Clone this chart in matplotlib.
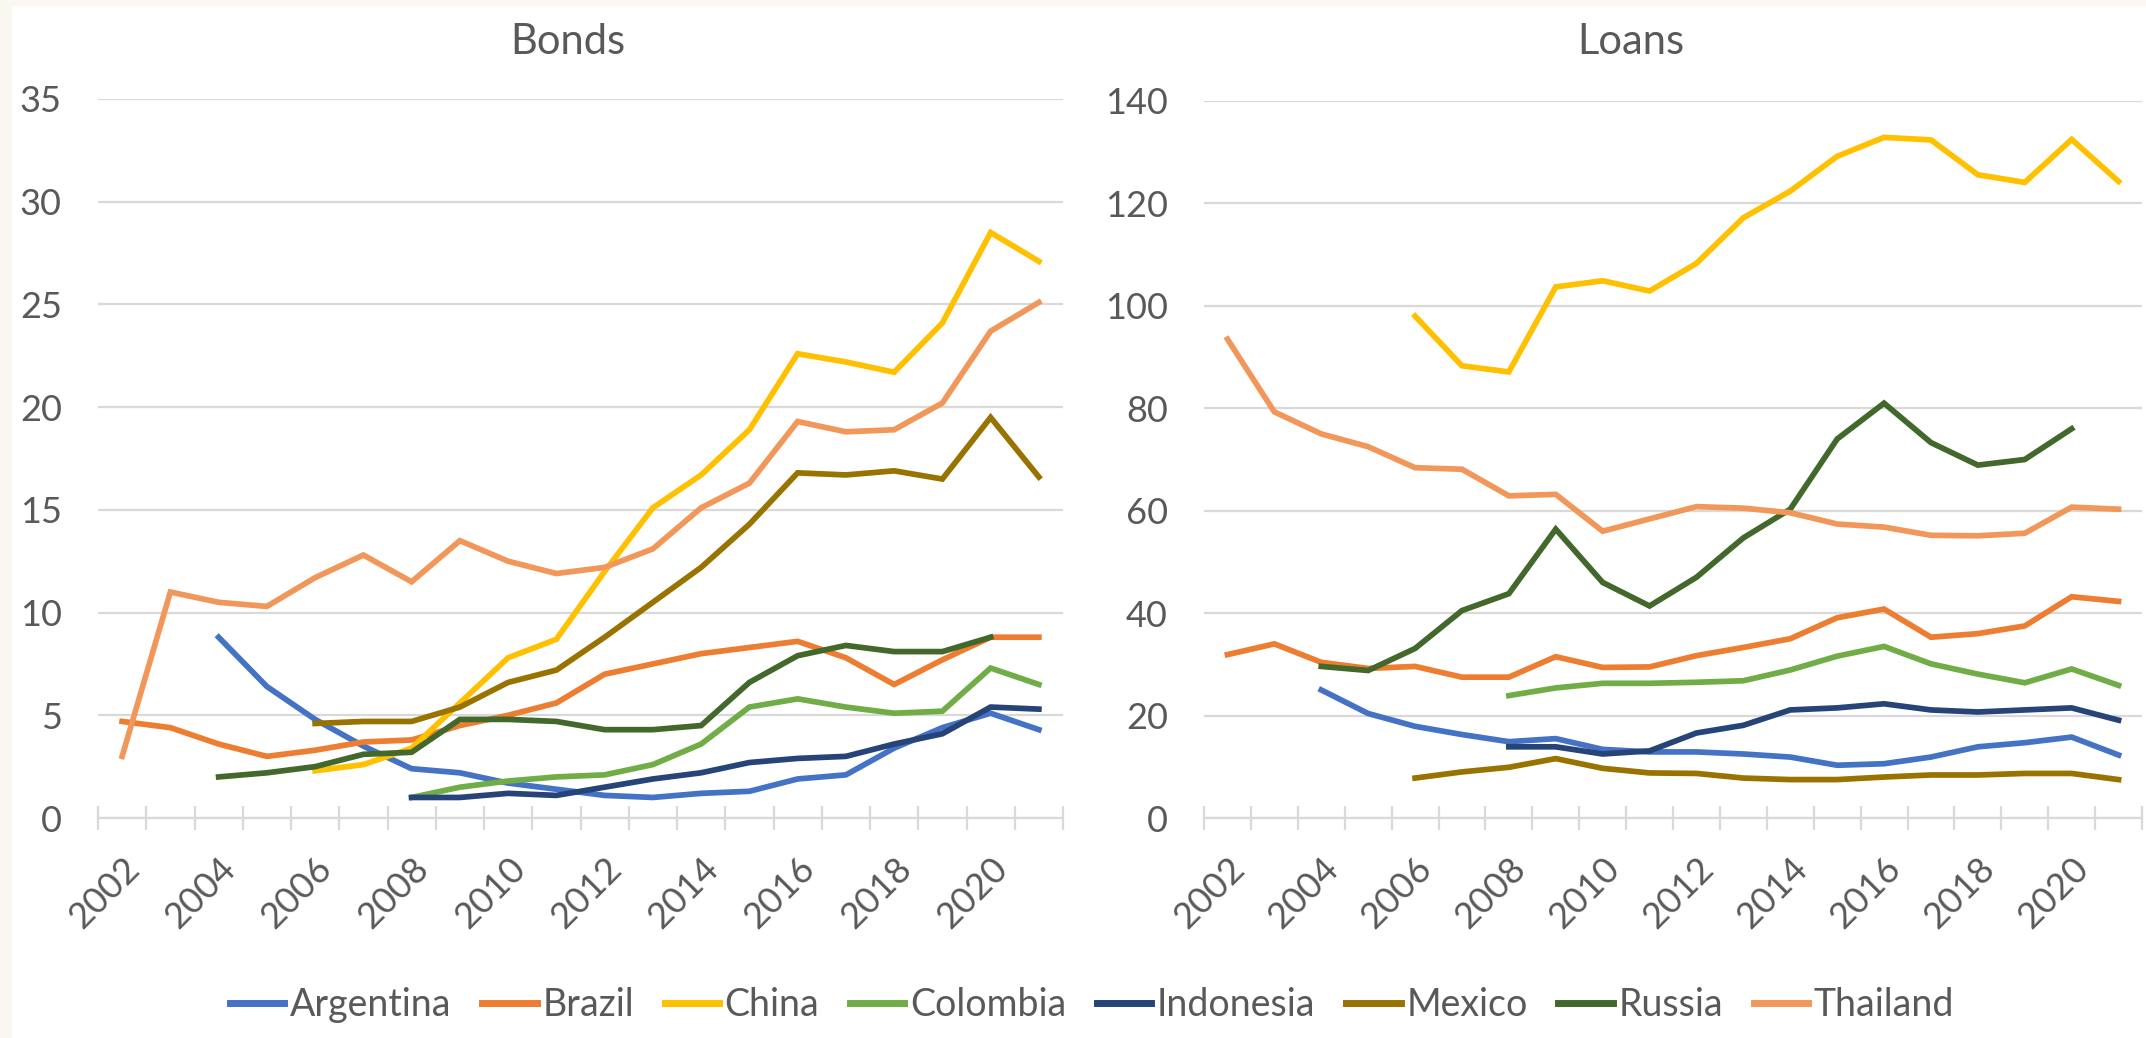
import numpy as np
import matplotlib
matplotlib.use("Agg")
from matplotlib import pyplot as plt
from matplotlib.patches import Rectangle

plt.rcParams['font.family'] = ['Lato', 'DejaVu Sans']

years = list(range(2002, 2022))
countries = ['Argentina', 'Brazil', 'China', 'Colombia', 'Indonesia', 'Mexico', 'Russia', 'Thailand']
colors = ['#4472C4', '#ED7D31', '#FFC000', '#70AD47', '#264478', '#997300', '#43682B', '#F1975A']
n = np.nan

# bonds, 2002..2021
bonds_argentina = [n, n, 8.8, 6.4, 4.8, 3.5, 2.4, 2.2, 1.7, 1.4, 1.1, 1.0, 1.2, 1.3, 1.9, 2.1, 3.4, 4.4, 5.1, 4.3]
bonds_brazil = [4.7, 4.4, 3.6, 3.0, 3.3, 3.7, 3.8, 4.5, 5.0, 5.6, 7.0, 7.5, 8.0, 8.3, 8.6, 7.8, 6.5, 7.7, 8.8, 8.8]
bonds_china = [n, n, n, n, 2.3, 2.6, 3.4, 5.6, 7.8, 8.7, 12.0, 15.1, 16.7, 18.9, 22.6, 22.2, 21.7, 24.1, 28.5, 27.1]
bonds_colombia = [n, n, n, n, n, n, 1.0, 1.5, 1.8, 2.0, 2.1, 2.6, 3.6, 5.4, 5.8, 5.4, 5.1, 5.2, 7.3, 6.5]
bonds_indonesia = [n, n, n, n, n, n, 1.0, 1.0, 1.2, 1.1, 1.5, 1.9, 2.2, 2.7, 2.9, 3.0, 3.6, 4.1, 5.4, 5.3]
bonds_mexico = [n, n, n, n, 4.6, 4.7, 4.7, 5.4, 6.6, 7.2, 8.8, 10.5, 12.2, 14.3, 16.8, 16.7, 16.9, 16.5, 19.5, 16.6]
bonds_russia = [n, n, 2.0, 2.2, 2.5, 3.1, 3.2, 4.8, 4.8, 4.7, 4.3, 4.3, 4.5, 6.6, 7.9, 8.4, 8.1, 8.1, 8.8, n]
bonds_thailand = [3.0, 11.0, 10.5, 10.3, 11.7, 12.8, 11.5, 13.5, 12.5, 11.9, 12.2, 13.1, 15.1, 16.3, 19.3, 18.8, 18.9, 20.2, 23.7, 25.1]

# loans, 2002..2021
loans_argentina = [n, n, 25.0, 20.4, 17.9, 16.3, 14.9, 15.5, 13.4, 12.9, 12.9, 12.5, 11.9, 10.3, 10.6, 11.9, 13.9, 14.7, 15.8, 12.3]
loans_brazil = [31.9, 34.0, 30.4, 29.2, 29.6, 27.5, 27.5, 31.5, 29.4, 29.5, 31.7, 33.3, 35.0, 39.1, 40.8, 35.3, 36.0, 37.5, 43.2, 42.3]
loans_china = [n, n, n, n, 98.0, 88.3, 87.1, 103.7, 104.9, 102.9, 108.3, 117.2, 122.4, 129.2, 132.9, 132.4, 125.6, 124.1, 132.5, 124.3]
loans_colombia = [n, n, n, n, n, n, 23.9, 25.4, 26.3, 26.3, 26.5, 26.8, 28.9, 31.6, 33.5, 30.1, 28.1, 26.4, 29.1, 25.9]
loans_indonesia = [n, n, n, n, n, n, 13.9, 13.9, 12.5, 13.1, 16.6, 18.1, 21.1, 21.5, 22.3, 21.1, 20.7, 21.1, 21.5, 19.1]
loans_mexico = [n, n, n, n, 7.8, 9.0, 9.9, 11.6, 9.7, 8.8, 8.7, 7.8, 7.5, 7.5, 8.0, 8.4, 8.4, 8.7, 8.7, 7.5]
loans_russia = [n, n, 29.6, 28.8, 33.1, 40.5, 43.8, 56.4, 46.0, 41.4, 47.0, 54.7, 60.3, 74.0, 81.0, 73.3, 68.9, 70.0, 76.0, n]
loans_thailand = [93.5, 79.3, 75.0, 72.5, 68.4, 68.1, 62.9, 63.2, 56.0, 58.4, 60.8, 60.5, 59.6, 57.4, 56.8, 55.2, 55.1, 55.6, 60.7, 60.3]

bonds = [bonds_argentina, bonds_brazil, bonds_china, bonds_colombia,
         bonds_indonesia, bonds_mexico, bonds_russia, bonds_thailand]
loans = [loans_argentina, loans_brazil, loans_china, loans_colombia,
         loans_indonesia, loans_mexico, loans_russia, loans_thailand]

W, H = 2146, 1038
fig = plt.figure(figsize=(W / 100, H / 100), dpi=100)
fig.patch.set_facecolor('#FAF6F0')
fig.patches.append(Rectangle((12 / W, 0), 1, 1 - 6 / H, transform=fig.transFigure,
                             facecolor='white', edgecolor='none', zorder=-10))

txt = '#595959'
grid = '#D9D9D9'


def panel(rect, data, ymax, ystep, title, title_x):
    ax = fig.add_axes(rect)
    ax.set_facecolor('none')
    for vals, c, name in zip(data, colors, countries):
        ax.plot(years, vals, color=c, lw=4.1, label=name, solid_joinstyle='miter')
    ax.set_xlim(2001.5, 2021.5)
    ax.set_ylim(0, ymax)
    ax.set_yticks(np.arange(0, ymax + 1, ystep))
    ax.set_xticks(years[::2])
    ax.set_xticks(np.arange(2001.5, 2022, 1), minor=True)
    ax.yaxis.grid(True, color=grid, lw=1.6)
    ax.set_axisbelow(True)
    for s in ['top', 'right', 'left']:
        ax.spines[s].set_visible(False)
    ax.spines['bottom'].set_color(grid)
    ax.spines['bottom'].set_linewidth(1.6)
    ax.tick_params(axis='y', length=0, pad=26, labelsize=26, labelcolor=txt)
    ax.tick_params(axis='x', which='major', length=0, pad=24, labelsize=26, labelcolor=txt)
    ax.tick_params(axis='x', which='minor', direction='inout', length=17, width=1.6, color=grid)
    for lab in ax.get_xticklabels():
        lab.set_rotation(45)
        lab.set_ha('right')
        lab.set_va('top')
        lab.set_rotation_mode('anchor')
    fig.text(title_x, 1 - 42 / H, title, ha='center', va='center', fontsize=30, color=txt)
    return ax


bottom = 1 - 818 / H
ax1 = panel([98 / W, bottom, (1063 - 98) / W, (818 - 99) / H], bonds, 35, 5, 'Bonds', 568 / W)
ax2 = panel([1204 / W, bottom, (2142 - 1204) / W, (818 - 101) / H], loans, 140, 20, 'Loans', 1631 / W)

handles, labels = ax1.get_legend_handles_labels()
leg = fig.legend(handles, labels, loc='center', bbox_to_anchor=(1092 / W, 1 - 1005 / H), ncol=8,
                 frameon=False, fontsize=27, handlelength=1.45, handletextpad=0.15, columnspacing=0.82)
for t in leg.get_texts():
    t.set_color(txt)
for h in leg.legend_handles:
    h.set_linewidth(5)

fig.savefig('out.png', dpi=100, facecolor=fig.get_facecolor())
